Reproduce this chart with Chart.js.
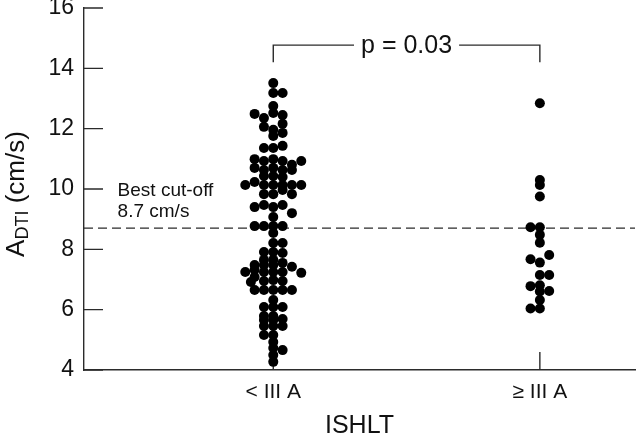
<!DOCTYPE html>
<html>
<head>
<meta charset="utf-8">
<script src="https://cdn.jsdelivr.net/npm/chart.js@4.4.0/dist/chart.umd.min.js"></script>
<style>
  html, body { margin: 0; padding: 0; background: #fff; }
  #wrap { width: 640px; height: 436px; }
</style>
</head>
<body>
<div id="wrap"><canvas id="chart" width="640" height="436"></canvas></div>
<script>
// ---- data ----
const categories = ['< III A', '\u2265 III A'];

// < III A group: A_DTI values and their swarm column (0 = centre)
const lowValues = [
    13.51, 13.18, 13.18, 12.75,
    12.49, 12.35, 12.52, 12.45,
    12.06, 11.96, 12.16, 11.76, 11.86,
    11.36, 11.36, 11.43,
    10.99, 10.93, 10.99, 10.93, 10.80, 10.93,
    10.70, 10.63, 10.70, 10.63, 10.63,
    10.43, 10.43, 10.40,
    10.13, 10.23, 10.13, 10.13, 10.13, 10.13, 10.13,
    9.83, 9.83, 9.97, 9.83,
    9.40, 9.47, 9.40, 9.47, 9.20, 9.07,
    8.77, 8.77, 8.77, 8.77, 8.54,
    8.21, 8.21, 7.91, 7.91, 7.88, 7.65, 7.65,
    7.48, 7.48, 7.48, 7.55, 7.42,
    7.25, 7.32, 7.25, 7.25, 7.25, 7.22,
    6.92, 7.08, 6.95, 6.98, 6.95,
    6.65, 6.65, 6.65, 6.65, 6.65,
    6.32, 6.09, 6.09, 6.09, 5.79, 5.79,
    5.66, 5.66, 5.69, 5.46, 5.46, 5.46,
    5.16, 5.16, 4.93, 4.73, 4.66, 4.50, 4.27
];
const lowColumns = [
    0, 0, 1, 0,
    -2, -1, 0, 1,
    -1, 0, 1, 0, 1,
    -1, 0, 1,
    -2, -1, 0, 1, 2, 3,
    -2, -1, 0, 1, 2,
    -1, 0, 1,
    -3, -2, -1, 0, 1, 2, 3,
    -1, 0, 1, 2,
    -2, -1, 0, 1, 2, 0,
    -2, -1, 0, 1, 0,
    0, 1, -1, 0, 1, -1, 0,
    -2, -1, 0, 1, 2,
    -3, -2, -1, 0, 1, 3,
    -2.4, -2, -1, 0, 1,
    -2, -1, 0, 1, 2,
    0, -1, 0, 1, -1, 0,
    -1, 0, 1, -1, 0, 1,
    -1, 0, 0, 0, 1, 0, 0
];

// >= III A group
const highValues = [
    12.84, 10.30, 10.13, 9.75,
    8.73, 8.73, 8.48, 8.22,
    7.67, 7.81, 7.56, 7.15, 7.15,
    6.78, 6.81, 6.60, 6.62, 6.32, 6.04, 6.04
];
const highColumns = [
    0, 0, 0, 0,
    -1, 0, 0, 0,
    -1, 1, 0, 0, 1,
    -1, 0, 0, 1, 0, -1, 0
];

const yTicks = [4, 6, 8, 10, 12, 14, 16];
const cutOff = 8.7;
const cutOffLabel = ['Best cut-off', '8.7 cm/s'];
const pValueText = 'p = 0.03';
const xTitle = 'ISHLT';

// ---- drawing ----
const INK = '#2b2b2b';
const FONT = '"Liberation Sans", Arial, Helvetica, sans-serif';
const COL_STEP = 0.035;

const toPoints = (vals, cols, cat) => vals.map((v, i) => ({ x: cat + cols[i] * COL_STEP, y: v }));

const overlay = {
    id: 'overlay',
    beforeDatasetsDraw(chart) {
        const { ctx, chartArea: a, scales: { x, y } } = chart;
        ctx.save();
        ctx.strokeStyle = INK;
        ctx.lineWidth = 1.4;
        ctx.beginPath();
        yTicks.forEach(v => {
            const py = y.getPixelForValue(v);
            ctx.moveTo(a.left, py);
            ctx.lineTo(a.left + 19, py);
        });
        [1, 2].forEach(v => {
            const px = x.getPixelForValue(v);
            ctx.moveTo(px, a.bottom);
            ctx.lineTo(px, a.bottom - 18);
        });
        ctx.stroke();

        // dashed cut-off line
        ctx.setLineDash([9, 5]);
        ctx.lineWidth = 1.3;
        const cy = y.getPixelForValue(cutOff);
        ctx.beginPath();
        ctx.moveTo(a.left, cy);
        ctx.lineTo(a.right, cy);
        ctx.stroke();
        ctx.restore();
    },
    afterDraw(chart) {
        const { ctx, chartArea: a, scales: { x, y } } = chart;
        ctx.save();
        ctx.fillStyle = '#111';
        ctx.strokeStyle = INK;
        ctx.lineWidth = 1.4;

        // cut-off label
        ctx.font = '19px ' + FONT;
        ctx.textAlign = 'left';
        ctx.textBaseline = 'middle';
        const lx = x.getPixelForValue(0.416);
        ctx.fillText(cutOffLabel[0], lx, y.getPixelForValue(9.93));
        ctx.fillText(cutOffLabel[1], lx, y.getPixelForValue(9.24));

        // p-value bracket
        const x1 = x.getPixelForValue(1), x2 = x.getPixelForValue(2);
        const by = y.getPixelForValue(14.77), bEnd = y.getPixelForValue(14.2);
        ctx.font = '25px ' + FONT;
        ctx.textAlign = 'center';
        const mid = (x1 + x2) / 2;
        const half = ctx.measureText(pValueText).width / 2 + 7;
        ctx.beginPath();
        ctx.moveTo(x1, bEnd); ctx.lineTo(x1, by); ctx.lineTo(mid - half, by);
        ctx.moveTo(mid + half, by); ctx.lineTo(x2, by); ctx.lineTo(x2, bEnd);
        ctx.stroke();
        ctx.fillText(pValueText, mid, by + 1);

        // x title
        ctx.font = '25px ' + FONT;
        ctx.fillText(xTitle, (a.left + a.right) / 2, 426);

        // y title with subscript
        ctx.translate(24, (a.top + a.bottom) / 2 + 5);
        ctx.rotate(-Math.PI / 2);
        ctx.textAlign = 'left';
        ctx.textBaseline = 'alphabetic';
        const big = '26px ' + FONT, small = '18px ' + FONT;
        ctx.font = big; const wA = ctx.measureText('A').width; const wRest = ctx.measureText(' (cm/s)').width;
        ctx.font = small; const wSub = ctx.measureText('DTI').width;
        let x0 = -(wA + wSub + wRest) / 2;
        ctx.font = big; ctx.fillText('A', x0, 0);
        ctx.font = small; ctx.fillText('DTI', x0 + wA, 4);
        ctx.font = big; ctx.fillText(' (cm/s)', x0 + wA + wSub, 0);
        ctx.restore();
    }
};

const dotStyle = { pointRadius: 5, pointHoverRadius: 5, pointBackgroundColor: '#000', pointBorderWidth: 0, showLine: false };

new Chart(document.getElementById('chart'), {
    type: 'scatter',
    data: {
        datasets: [
            { label: categories[0], data: toPoints(lowValues, lowColumns, 1), ...dotStyle },
            { label: categories[1], data: toPoints(highValues, highColumns, 2), ...dotStyle }
        ]
    },
    options: {
        responsive: false,
        animation: false,
        devicePixelRatio: 1,
        layout: { padding: { top: 8, left: 0, right: 0, bottom: 0 } },
        plugins: { legend: { display: false }, tooltip: { enabled: false } },
        scales: {
            x: {
                type: 'linear',
                min: 0.29,
                max: 2.3569,
                afterBuildTicks: s => { s.ticks = [1, 2].map(v => ({ value: v })); },
                afterFit: s => { s.height = 66; s.paddingLeft = 0; s.paddingRight = 0; },
                ticks: {
                    callback: (v, i) => categories[i],
                    font: { family: FONT, size: 21 },
                    color: '#111',
                    padding: 10,
                    maxRotation: 0,
                    autoSkip: false
                },
                grid: { display: false, drawTicks: false },
                border: { display: true, color: INK, width: 1.4 }
            },
            y: {
                min: 4,
                max: 16,
                afterFit: s => { s.width = 84; s.paddingTop = 0; s.paddingBottom = 0; },
                ticks: {
                    stepSize: 2,
                    font: { family: FONT, size: 23 },
                    color: '#111',
                    padding: 10
                },
                grid: { display: false, drawTicks: false },
                border: { display: true, color: INK, width: 1.4 }
            }
        }
    },
    plugins: [overlay]
});
</script>
</body>
</html>
